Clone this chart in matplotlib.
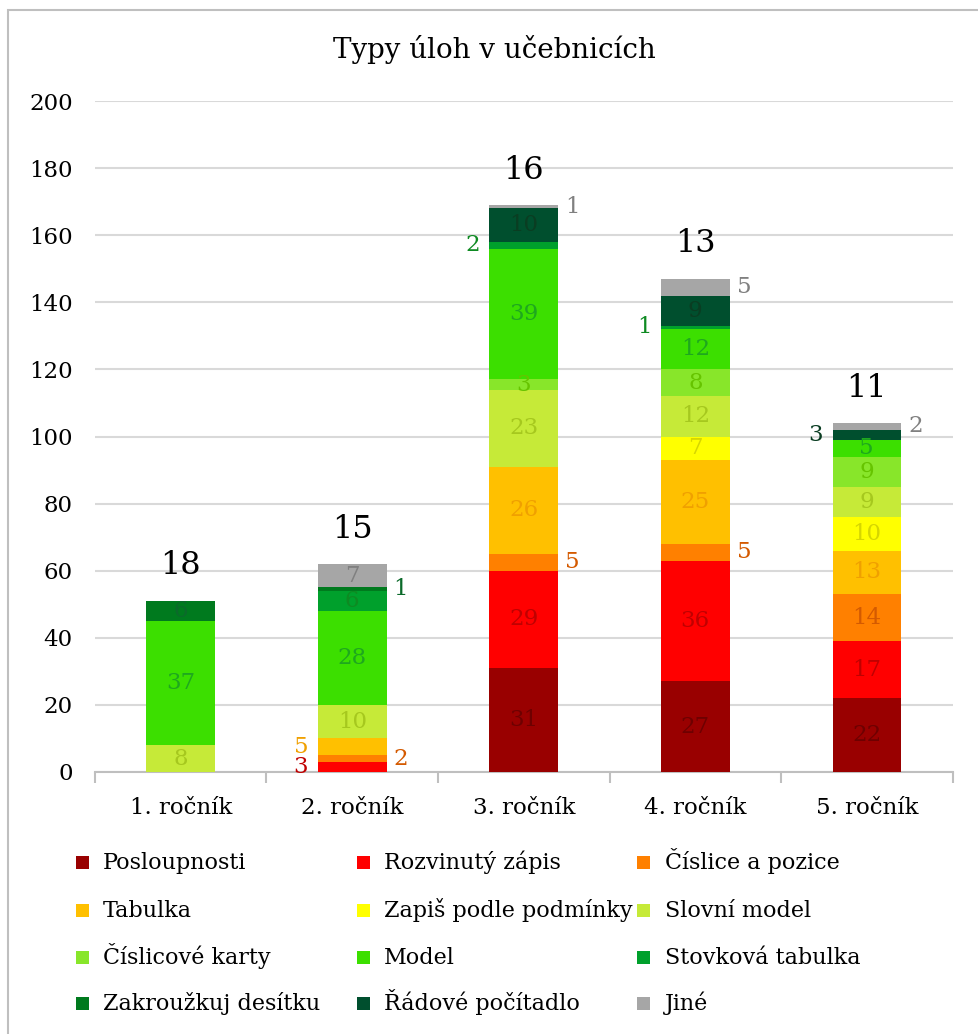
import matplotlib
matplotlib.use("Agg")
import matplotlib.pyplot as plt
from matplotlib.patches import Rectangle
import numpy as np

plt.rcParams['font.family'] = ['DejaVu Serif']

categories = ["1. ročník", "2. ročník", "3. ročník", "4. ročník", "5. ročník"]

series_names = [
    "Posloupnosti", "Rozvinutý zápis", "Číslice a pozice",
    "Tabulka", "Zapiš podle podmínky", "Slovní model",
    "Číslicové karty", "Model", "Stovková tabulka",
    "Zakroužkuj desítku", "Řádové počítadlo", "Jiné",
]

posloupnosti = [0, 0, 31, 27, 22]
rozvinuty_zapis = [0, 3, 29, 36, 17]
cislice_a_pozice = [0, 2, 5, 5, 14]
tabulka = [0, 5, 26, 25, 13]
zapis_podle_podminky = [0, 0, 0, 7, 10]
slovni_model = [8, 10, 23, 12, 9]
cislicove_karty = [0, 0, 3, 8, 9]
model = [37, 28, 39, 12, 5]
stovkova_tabulka = [0, 6, 2, 1, 0]
zakrouzkuj_desitku = [6, 1, 0, 0, 0]
radove_pocitadlo = [0, 0, 10, 9, 3]
jine = [0, 7, 1, 5, 2]

top_numbers = [18, 15, 16, 13, 11]

values = [posloupnosti, rozvinuty_zapis, cislice_a_pozice, tabulka,
          zapis_podle_podminky, slovni_model, cislicove_karty, model,
          stovkova_tabulka, zakrouzkuj_desitku, radove_pocitadlo, jine]

fill_colors = ["#990000", "#FF0000", "#FF8000", "#FFC000", "#FFFF00", "#C6EA38",
               "#88E62A", "#3CDF00", "#00A02C", "#007A1E", "#004F2E", "#A6A6A6"]
label_colors = ["#6E0000", "#C00000", "#D45A00", "#F0A000", "#D6D600", "#A6C81E",
                "#66C400", "#1EA81E", "#0E8A22", "#0B6A2A", "#0A3D22", "#808080"]

# small segments labelled beside the bar: (series index, category index) -> side
outside = {(1, 1): "left", (2, 1): "right", (3, 1): "left", (9, 1): "right",
           (2, 2): "right", (8, 2): "left", (11, 2): "right",
           (2, 3): "right", (8, 3): "left", (11, 3): "right",
           (10, 4): "left", (11, 4): "right"}

W, H = 979, 1034
fig = plt.figure(figsize=(W / 100, H / 100), dpi=100)
fig.patches.append(Rectangle((8 / W, -0.01), 1.0, 1 - 10 / H + 0.01,
                             transform=fig.transFigure, fill=False,
                             edgecolor="#BFBFBF", linewidth=1.5))

ax = fig.add_axes([0.097, 0.2534, 0.876, 0.6489])
x = np.arange(len(categories))
width = 0.40
bottom = np.zeros(len(categories))
label_size = 16.5

for i, (name, vals) in enumerate(zip(series_names, values)):
    vals = np.array(vals, dtype=float)
    ax.bar(x, vals, width, bottom=bottom, color=fill_colors[i], label=name,
           zorder=3, linewidth=0)
    for j, v in enumerate(vals):
        if v <= 0:
            continue
        mid = bottom[j] + v / 2
        side = outside.get((i, j))
        if side == "left":
            ax.annotate(f"{int(v)}", (x[j] - width / 2, mid), xytext=(-7, 0),
                        textcoords="offset points", ha="right", va="center",
                        fontsize=label_size, color=label_colors[i], zorder=4)
        elif side == "right":
            ax.annotate(f"{int(v)}", (x[j] + width / 2, mid), xytext=(5, 0),
                        textcoords="offset points", ha="left", va="center",
                        fontsize=label_size, color=label_colors[i], zorder=4)
        else:
            ax.text(x[j], mid, f"{int(v)}", ha="center", va="center",
                    fontsize=label_size, color=label_colors[i], zorder=4)
    bottom += vals

for j, n in enumerate(top_numbers):
    ax.annotate(str(n), (x[j], bottom[j]), xytext=(0, 14),
                textcoords="offset points", ha="center", va="bottom",
                fontsize=23, color="black")

ax.set_ylim(0, 200)
ax.set_xlim(-0.5, len(categories) - 0.5)
ax.set_yticks(np.arange(0, 201, 20))
ax.yaxis.grid(True, color="#D9D9D9", linewidth=1.5, zorder=0)
ax.set_axisbelow(True)
ax.tick_params(axis="y", length=0, labelsize=16.5, pad=16)

ax.set_xticks(x)
ax.set_xticklabels(categories, fontsize=16.5)
ax.set_xticks(np.arange(-0.5, len(categories)), minor=True)
ax.tick_params(axis="x", which="major", length=0, pad=18)
ax.tick_params(axis="x", which="minor", length=8, color="#BFBFBF", width=1.5)

for s in ["top", "right", "left"]:
    ax.spines[s].set_visible(False)
ax.spines["bottom"].set_color("#BFBFBF")
ax.spines["bottom"].set_linewidth(1.5)

fig.text(0.505, 1 - 50 / H, "Typy úloh v učebnicích", ha="center", va="center",
         fontsize=20)

# legend laid out on a 3-column grid, filled row by row
col_x = [82, 363, 644]
row_y = [862, 910, 957, 1003]
sq = 13
for k, name in enumerate(series_names):
    r, c = divmod(k, 3)
    cx, cy = col_x[c], row_y[r]
    fig.patches.append(Rectangle(((cx - sq / 2) / W, 1 - (cy + sq / 2) / H),
                                 sq / W, sq / H, transform=fig.transFigure,
                                 facecolor=fill_colors[k], edgecolor="none"))
    fig.text((cx + 21) / W, 1 - (cy + 7) / H, name, ha="left", va="baseline",
             fontsize=16, color="black")

fig.savefig("out.png", dpi=100)
